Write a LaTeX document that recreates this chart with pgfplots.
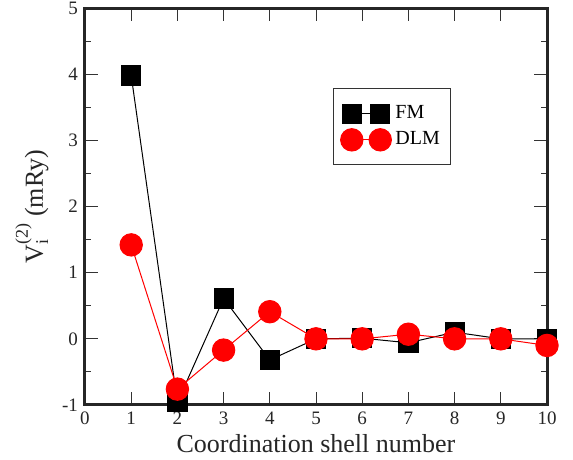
\documentclass[border=0pt]{standalone}
\usepackage{fontspec}
\setmainfont{Liberation Serif}
\usepackage{pgfplots}
\pgfplotsset{compat=1.18}

\pgfplotstableread{
x y
1 3.98
2 -0.96
3 0.61
4 -0.32
5 0.0
6 0.01
7 -0.06
8 0.10
9 0.0
10 0.0
}\fmdata

\pgfplotstableread{
x y
1 1.42
2 -0.76
3 -0.17
4 0.41
5 0.0
6 0.0
7 0.07
8 0.0
9 0.0
10 -0.10
}\dlmdata

\begin{document}
\begin{tikzpicture}
\begin{axis}[
    at={(0,0)}, anchor=south west,
    width=231pt, height=198.5pt, scale only axis,
    xmin=0, xmax=10, ymin=-1, ymax=5,
    xtick={0,1,...,10}, ytick={-1,0,...,5},
    minor y tick num=1,
    tick align=inside,
    major tick length=6.5pt, minor tick length=3pt,
    tick style={line width=0.5pt, black!80},
    axis line style={line width=1.5pt, black!85},
    clip=false,
    /pgf/number format/assume math mode=true,
    tick label style={font=\fontsize{9.5}{11}\selectfont, black!85},
    label style={font=\fontsize{13}{15}\selectfont, black!85},
    xlabel={Coordination shell number},
    ylabel={V\rlap{\raisebox{-0.45ex}{\fontsize{9}{10}\selectfont i}}\raisebox{1.25ex}{\fontsize{9}{10}\selectfont (2)} (mRy)},
    xlabel style={yshift=2pt},
    legend style={at={(rel axis cs:0.537,0.798)}, anchor=north west,
        draw=black!80, line width=0.5pt, font=\fontsize{10}{12}\selectfont,
        inner xsep=3.5pt, inner ysep=6.5pt, row sep=1pt},
    legend cell align=left,
    legend image code/.code={
        \draw[#1] plot coordinates {(0cm,0cm) (0.5cm,0cm)};
    },
]
\addplot[black, line width=0.5pt, mark=square*, mark size=4.8pt,
    mark options={solid, fill=black}] table {\fmdata};
\addlegendentry{FM}
\addplot[red, line width=0.5pt, mark=*, mark size=5.6pt,
    mark options={solid, fill=red, draw=red}] table {\dlmdata};
\addlegendentry{DLM}
\end{axis}
\pgfresetboundingbox
\path (-42.5pt,-27.5pt) rectangle (244pt,202.5pt);
\end{tikzpicture}
\end{document}
